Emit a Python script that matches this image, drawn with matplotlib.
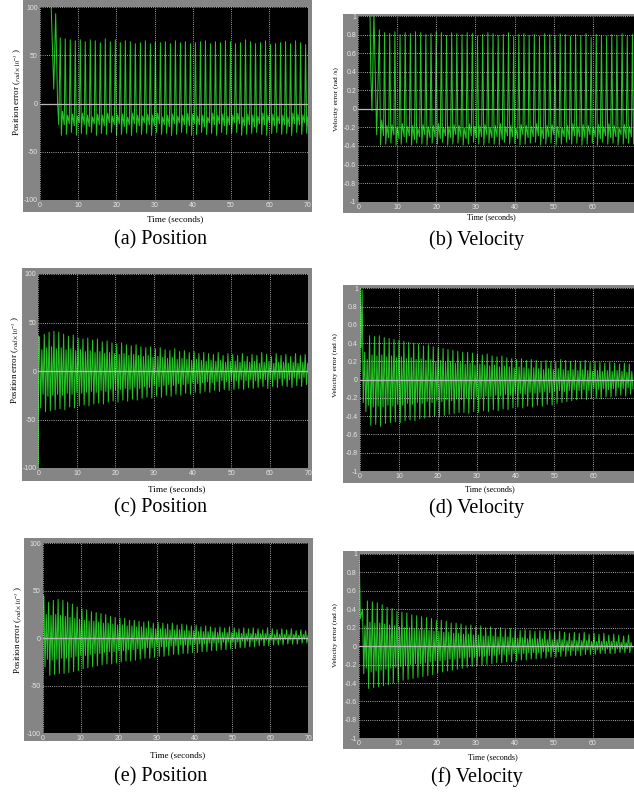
"""Six scope-style error traces (position / velocity) in a 3x2 grid."""
import numpy as np
import matplotlib
matplotlib.use("Agg")
import matplotlib.pyplot as plt
from matplotlib.patches import Rectangle

W, H = 634, 796

# ---------------- data ----------------
# every cycle is traced as: peak -> trough -> inner peak -> inner trough

# (a) position
a_lead_t = [2.9, 3.6, 4.1, 4.6, 4.9]
a_lead_v = [104, 15, 93, 0, -22]
a_span = (5.3, 69.5)
a_hi = [68, 67, 66, 65, 66, 64, 66, 65, 63, 67,
        64, 66, 63, 65, 64, 62, 63, 65, 62, 64,
        63, 64, 62, 65, 63, 64, 62, 63, 64, 65,
        62, 64, 63, 65, 64, 62, 63, 66, 64, 62,
        63, 65, 61, 62, 63, 64, 62, 65, 63, 61]
a_lo = [-33, -32, -30, -33, -31, -32, -30, -33, -31, -32,
        -30, -33, -32, -31, -33, -30, -32, -31, -33, -30,
        -32, -31, -33, -32, -30, -31, -33, -32, -30, -32,
        -31, -33, -30, -32, -31, -30, -33, -32, -31, -30,
        -32, -33, -31, -30, -32, -31, -33, -30, -32, -31]
a_in_hi = [-8, -12, -11, -13, -10, -12, -14, -11, -12, -10,
           -13, -12, -11, -14, -10, -12, -13, -11, -12, -10,
           -14, -12, -11, -13, -12, -10, -11, -13, -12, -14,
           -10, -12, -11, -13, -12, -10, -14, -11, -12, -13,
           -10, -12, -11, -13, -12, -14, -10, -11, -12, -13]
a_in_lo = [-22, -21, -23, -20, -22, -24, -21, -22, -23, -20,
           -22, -21, -24, -22, -21, -23, -20, -22, -23, -21,
           -22, -24, -21, -20, -22, -23, -21, -22, -24, -20,
           -22, -21, -23, -22, -20, -21, -23, -22, -24, -21,
           -22, -20, -23, -21, -22, -24, -21, -22, -20, -23]

# (b) velocity
b_lead_t = [3.0, 3.2, 3.5, 4.0, 4.7]
b_lead_v = [1.02, 0.38, -0.02, 1.02, -0.28]
b_span = (5.4, 70.2)
b_hi = [0.85, 0.82, 0.81, 0.83, 0.80, 0.82, 0.81, 0.83, 0.82, 0.80,
        0.81, 0.83, 0.82, 0.79, 0.82, 0.81, 0.80, 0.82, 0.81, 0.78,
        0.80, 0.82, 0.81, 0.79, 0.80, 0.82, 0.78, 0.80, 0.81, 0.79,
        0.80, 0.78, 0.81, 0.80, 0.79, 0.81, 0.80, 0.78, 0.80, 0.79,
        0.81, 0.77, 0.80, 0.79, 0.78, 0.80, 0.79, 0.81, 0.78, 0.80]
b_lo = [-0.39, -0.38, -0.37, -0.39, -0.38, -0.36, -0.39, -0.37, -0.38, -0.39,
        -0.37, -0.38, -0.36, -0.39, -0.38, -0.37, -0.39, -0.38, -0.36, -0.38,
        -0.39, -0.37, -0.38, -0.39, -0.36, -0.38, -0.37, -0.39, -0.38, -0.37,
        -0.36, -0.39, -0.38, -0.37, -0.39, -0.38, -0.36, -0.38, -0.37, -0.39,
        -0.38, -0.37, -0.39, -0.36, -0.38, -0.37, -0.39, -0.38, -0.37, -0.38]
b_in_hi = [-0.12, -0.18, -0.17, -0.20, -0.16, -0.19, -0.18, -0.21, -0.17, -0.19,
           -0.18, -0.16, -0.20, -0.19, -0.17, -0.18, -0.21, -0.16, -0.19, -0.18,
           -0.17, -0.20, -0.18, -0.16, -0.19, -0.18, -0.21, -0.17, -0.18, -0.19,
           -0.16, -0.20, -0.18, -0.17, -0.19, -0.21, -0.18, -0.16, -0.19, -0.17,
           -0.18, -0.20, -0.17, -0.19, -0.16, -0.18, -0.21, -0.17, -0.19, -0.18]
b_in_lo = [-0.29, -0.31, -0.28, -0.32, -0.30, -0.29, -0.33, -0.30, -0.28, -0.31,
           -0.30, -0.32, -0.29, -0.31, -0.28, -0.30, -0.32, -0.29, -0.31, -0.30,
           -0.28, -0.31, -0.30, -0.33, -0.29, -0.30, -0.32, -0.28, -0.31, -0.30,
           -0.29, -0.32, -0.30, -0.28, -0.31, -0.30, -0.33, -0.29, -0.30, -0.31,
           -0.28, -0.30, -0.32, -0.29, -0.31, -0.30, -0.28, -0.32, -0.30, -0.29]

# (c) position
c_lead_t = [0.0, 0.1]
c_lead_v = [-105, 36]
c_span = (0.3, 69.2)
c_hi = [34, 38, 40, 41, 40, 38, 36, 37, 34, 33,
        34, 32, 33, 30, 31, 29, 28, 29, 27, 26,
        27, 25, 24, 25, 23, 24, 22, 21, 23, 20,
        21, 19, 20, 18, 19, 18, 17, 19, 16, 18,
        17, 16, 18, 15, 17, 16, 19, 17, 15, 18,
        16, 17, 15, 18, 16, 17]
c_lo = [-38, -42, -41, -40, -39, -40, -37, -38, -36, -35,
        -36, -34, -33, -34, -32, -31, -32, -30, -31, -29,
        -30, -28, -27, -28, -26, -27, -25, -26, -24, -25,
        -23, -24, -22, -23, -21, -22, -20, -21, -19, -20,
        -19, -18, -19, -17, -18, -17, -16, -18, -16, -17,
        -15, -16, -17, -15, -16, -14]
c_in_hi = [22, 24, 25, 23, 24, 22, 23, 21, 22, 20,
           21, 19, 20, 18, 19, 18, 17, 18, 16, 17,
           16, 15, 16, 14, 15, 14, 13, 14, 12, 13,
           12, 11, 12, 11, 10, 11, 10, 11, 9, 10,
           10, 9, 10, 9, 10, 8, 9, 10, 8, 9,
           9, 8, 9, 8, 9, 8]
c_in_lo = [-24, -26, -25, -24, -25, -23, -24, -22, -23, -22,
           -21, -22, -20, -21, -19, -20, -19, -18, -19, -17,
           -18, -16, -17, -15, -16, -15, -14, -15, -13, -14,
           -13, -12, -13, -12, -11, -12, -11, -10, -11, -10,
           -10, -9, -10, -9, -10, -8, -9, -8, -9, -8,
           -8, -9, -7, -8, -7, -8]

# (d) velocity
d_lead_t = [0.0, 0.05, 0.3, 0.55, 0.85]
d_lead_v = [0.1, 1.02, 0.35, 0.98, -0.25]
d_span = (1.2, 69.3)
d_hi = [0.30, 0.48, 0.47, 0.48, 0.46, 0.45, 0.44, 0.43, 0.42, 0.41,
        0.40, 0.39, 0.37, 0.38, 0.36, 0.35, 0.34, 0.33, 0.32, 0.31,
        0.30, 0.30, 0.29, 0.28, 0.27, 0.28, 0.26, 0.25, 0.26, 0.24,
        0.23, 0.22, 0.23, 0.21, 0.22, 0.21, 0.20, 0.21, 0.20, 0.19,
        0.22, 0.21, 0.20, 0.21, 0.20, 0.21, 0.19, 0.20, 0.19, 0.18,
        0.19, 0.18, 0.17, 0.18, 0.17]
d_lo = [-0.35, -0.50, -0.49, -0.51, -0.48, -0.47, -0.46, -0.47, -0.45, -0.44,
        -0.45, -0.43, -0.42, -0.41, -0.40, -0.41, -0.39, -0.38, -0.37, -0.36,
        -0.36, -0.37, -0.35, -0.36, -0.34, -0.35, -0.33, -0.34, -0.32, -0.33,
        -0.31, -0.30, -0.31, -0.29, -0.30, -0.28, -0.29, -0.27, -0.28, -0.26,
        -0.25, -0.24, -0.23, -0.22, -0.21, -0.22, -0.21, -0.20, -0.21, -0.19,
        -0.19, -0.18, -0.17, -0.18, -0.16]
d_in_hi = [0.22, 0.27, 0.26, 0.27, 0.25, 0.26, 0.24, 0.25, 0.23, 0.24,
           0.22, 0.23, 0.21, 0.22, 0.20, 0.21, 0.19, 0.20, 0.18, 0.19,
           0.17, 0.18, 0.16, 0.17, 0.16, 0.15, 0.16, 0.14, 0.15, 0.14,
           0.13, 0.14, 0.13, 0.12, 0.13, 0.12, 0.11, 0.12, 0.11, 0.12,
           0.11, 0.10, 0.11, 0.10, 0.11, 0.10, 0.09, 0.10, 0.09, 0.10,
           0.09, 0.10, 0.09, 0.08, 0.09]
d_in_lo = [-0.28, -0.30, -0.29, -0.30, -0.28, -0.29, -0.27, -0.28, -0.26, -0.27,
           -0.25, -0.26, -0.24, -0.25, -0.23, -0.24, -0.22, -0.23, -0.21, -0.22,
           -0.20, -0.21, -0.19, -0.20, -0.18, -0.19, -0.17, -0.18, -0.16, -0.17,
           -0.16, -0.15, -0.16, -0.14, -0.15, -0.14, -0.13, -0.14, -0.13, -0.12,
           -0.13, -0.12, -0.11, -0.12, -0.11, -0.12, -0.10, -0.11, -0.10, -0.11,
           -0.10, -0.09, -0.10, -0.09, -0.10]

# (e) position
e_lead_t = [0.0, 0.08]
e_lead_v = [-105, 45]
e_span = (0.3, 69.3)
e_hi = [44, 38, 40, 41, 40, 38, 36, 33, 31, 30,
        28, 27, 26, 25, 23, 22, 21, 21, 19, 19,
        18, 17, 18, 16, 17, 16, 15, 16, 14, 15,
        14, 13, 14, 12, 13, 12, 11, 12, 11, 12,
        11, 10, 11, 10, 11, 10, 9, 11, 10, 9,
        10, 9, 10, 8, 9, 8]
e_lo = [-30, -39, -38, -37, -37, -36, -35, -34, -32, -31,
        -30, -29, -28, -27, -27, -26, -25, -24, -24, -23,
        -22, -21, -21, -20, -19, -19, -18, -17, -17, -16,
        -16, -15, -15, -14, -14, -13, -13, -12, -12, -11,
        -11, -10, -10, -9, -9, -8, -8, -8, -7, -7,
        -7, -6, -6, -6, -5, -5]
e_in_hi = [25, 24, 25, 24, 23, 22, 21, 20, 19, 18,
           18, 17, 16, 16, 15, 14, 14, 13, 13, 12,
           12, 11, 11, 10, 10, 10, 9, 9, 9, 8,
           8, 8, 7, 7, 7, 7, 6, 6, 6, 6,
           6, 5, 5, 5, 5, 5, 5, 4, 4, 4,
           4, 4, 4, 3, 4, 3]
e_in_lo = [-22, -23, -22, -21, -21, -20, -19, -18, -18, -17,
           -16, -16, -15, -14, -14, -13, -13, -12, -12, -11,
           -11, -10, -10, -9, -9, -9, -8, -8, -7, -7,
           -7, -6, -6, -6, -5, -5, -5, -4, -4, -4,
           -4, -3, -3, -3, -3, -2, -2, -2, -2, -2,
           -1, -2, -1, -1, -1, -1]

# (f) velocity
f_lead_t = [0.0, 0.05, 0.35]
f_lead_v = [0.05, 1.02, 0.3]
f_span = (0.9, 69.2)
f_hi = [0.40, 0.49, 0.48, 0.47, 0.45, 0.42, 0.41, 0.38, 0.37, 0.36,
        0.34, 0.33, 0.32, 0.31, 0.30, 0.28, 0.28, 0.27, 0.25, 0.25,
        0.24, 0.22, 0.23, 0.21, 0.22, 0.20, 0.21, 0.19, 0.20, 0.18,
        0.19, 0.18, 0.17, 0.18, 0.17, 0.16, 0.17, 0.16, 0.17, 0.15,
        0.16, 0.15, 0.14, 0.15, 0.14, 0.15, 0.13, 0.14, 0.13, 0.14,
        0.12, 0.13, 0.12, 0.11, 0.12]
f_lo = [-0.30, -0.46, -0.45, -0.44, -0.43, -0.42, -0.40, -0.39, -0.37, -0.36,
        -0.35, -0.34, -0.33, -0.32, -0.31, -0.29, -0.28, -0.27, -0.26, -0.25,
        -0.24, -0.23, -0.22, -0.21, -0.21, -0.20, -0.19, -0.18, -0.18, -0.17,
        -0.17, -0.16, -0.15, -0.15, -0.14, -0.14, -0.13, -0.13, -0.12, -0.12,
        -0.11, -0.11, -0.10, -0.10, -0.10, -0.09, -0.09, -0.09, -0.08, -0.08,
        -0.08, -0.08, -0.07, -0.07, -0.07]
f_in_hi = [0.22, 0.26, 0.25, 0.25, 0.24, 0.23, 0.22, 0.21, 0.20, 0.20,
           0.19, 0.18, 0.18, 0.17, 0.16, 0.16, 0.15, 0.15, 0.14, 0.14,
           0.13, 0.13, 0.12, 0.12, 0.11, 0.11, 0.11, 0.10, 0.10, 0.10,
           0.09, 0.09, 0.09, 0.08, 0.08, 0.08, 0.08, 0.07, 0.07, 0.07,
           0.07, 0.06, 0.06, 0.06, 0.06, 0.06, 0.05, 0.05, 0.05, 0.05,
           0.05, 0.05, 0.04, 0.04, 0.04]
f_in_lo = [-0.24, -0.28, -0.27, -0.26, -0.25, -0.24, -0.23, -0.22, -0.21, -0.20,
           -0.19, -0.19, -0.18, -0.17, -0.16, -0.16, -0.15, -0.14, -0.14, -0.13,
           -0.13, -0.12, -0.12, -0.11, -0.11, -0.10, -0.10, -0.09, -0.09, -0.09,
           -0.08, -0.08, -0.08, -0.07, -0.07, -0.07, -0.06, -0.06, -0.06, -0.06,
           -0.05, -0.05, -0.05, -0.05, -0.04, -0.04, -0.04, -0.04, -0.04, -0.03,
           -0.03, -0.03, -0.03, -0.03, -0.02]

pos_ticks = [-100, -50, 0, 50, 100]
pos_tick_labels = ["-100", "-50", "0", "50", "100"]
vel_ticks = [-1, -0.8, -0.6, -0.4, -0.2, 0, 0.2, 0.4, 0.6, 0.8, 1]
vel_tick_labels = ["-1", "-0.8", "-0.6", "-0.4", "-0.2", "0",
                   "0.2", "0.4", "0.6", "0.8", "1"]
time_ticks_left = [0, 10, 20, 30, 40, 50, 60, 70]
time_ticks_right = [0, 10, 20, 30, 40, 50, 60]

captions = ["(a) Position", "(b) Velocity", "(c) Position",
            "(d) Velocity", "(e) Position", "(f) Velocity"]
pos_label = r"Position error ($_{rad\times10^{-3}}$ )"
vel_label = "Velocity error (rad /s)"

# ---------------- layout (pixel boxes in the 634x796 image) ----------------
SHARP = (0.0, 0.22, 0.45, 0.8)   # steep rise/fall, then a flat cluster
EVEN = (0.0, 0.25, 0.5, 0.75)

panels = [
    dict(lead=(a_lead_t, a_lead_v), span=a_span, vals=(a_hi, a_lo, a_in_hi, a_in_lo),
         shape=SHARP, kind="pos", ax=(40, 7, 307.5, 200), frame=(23, 0, 312, 212),
         xmax=70, ylab=(16.7, 92, 6.5), tlab=(175, 219, 6.6), cap=(161, 240)),
    dict(lead=(b_lead_t, b_lead_v), span=b_span, vals=(b_hi, b_lo, b_in_hi, b_in_lo),
         shape=SHARP, kind="vel", ax=(358.3, 16, 634, 201.7), frame=(343, 14, 634, 213),
         xmax=70.6, ylab=(335.7, 99, 5.3), tlab=(491, 217, 5.8), cap=(477, 240)),
    dict(lead=(c_lead_t, c_lead_v), span=c_span, vals=(c_hi, c_lo, c_in_hi, c_in_lo),
         shape=EVEN, kind="pos", ax=(38.3, 274, 308.3, 468), frame=(22, 268, 312, 481),
         xmax=70, ylab=(15, 360, 6.5), tlab=(177, 489, 6.7), cap=(161, 508)),
    dict(lead=(d_lead_t, d_lead_v), span=d_span, vals=(d_hi, d_lo, d_in_hi, d_in_lo),
         shape=EVEN, kind="vel", ax=(360, 288.3, 634, 471), frame=(343, 285, 634, 483),
         xmax=70.5, ylab=(335, 365, 5.3), tlab=(490, 489, 5.9), cap=(477, 508)),
    dict(lead=(e_lead_t, e_lead_v), span=e_span, vals=(e_hi, e_lo, e_in_hi, e_in_lo),
         shape=EVEN, kind="pos", ax=(42.7, 543.3, 308.3, 733.3), frame=(24, 538, 313, 741),
         xmax=70, ylab=(18, 630, 6.5), tlab=(178, 755, 6.5), cap=(161, 777)),
    dict(lead=(f_lead_t, f_lead_v), span=f_span, vals=(f_hi, f_lo, f_in_hi, f_in_lo),
         shape=EVEN, kind="vel", ax=(359, 554, 634, 738.3), frame=(343, 551, 634, 749),
         xmax=70.6, ylab=(335, 635, 5.3), tlab=(493, 757, 5.9), cap=(477, 777)),
]

GREEN = "#27c227"
FRAME = "#858585"
TICK_TXT = "#e6e6e6"

plt.rcParams["mathtext.fontset"] = "stix"


def fx(x):
    return x / W


def fy(y):
    return 1 - y / H


def build_trace(lead, span, vals, shape):
    """Join the lead-in samples with the per-cycle turning points."""
    t = list(lead[0])
    v = list(lead[1])
    starts = np.linspace(span[0], span[1], len(vals[0]))
    period = starts[1] - starts[0]
    for k, t0 in enumerate(starts):
        for frac, series in zip(shape, vals):
            t.append(t0 + frac * period)
            v.append(series[k])
    return np.array(t), np.array(v)


fig = plt.figure(figsize=(W / 100, H / 100), dpi=100)
fig.patch.set_facecolor("white")

for p, cap in zip(panels, captions):
    l, t, r, b = p["frame"]
    fig.add_artist(Rectangle((fx(l), fy(b)), fx(r - l), (b - t) / H,
                             transform=fig.transFigure, facecolor=FRAME,
                             edgecolor="none", zorder=-1))

    l, t, r, b = p["ax"]
    ax = fig.add_axes([fx(l), fy(b), fx(r - l), (b - t) / H])
    ax.set_facecolor("black")
    for s in ax.spines.values():
        s.set_visible(False)

    tt, vv = build_trace(p["lead"], p["span"], p["vals"], p["shape"])
    ax.plot(tt, vv, color=GREEN, lw=0.75, zorder=2)
    ax.axhline(0, color="#b8b8b8", lw=0.9, zorder=3)

    if p["kind"] == "pos":
        ax.set_ylim(-100, 100)
        ax.set_yticks(pos_ticks)
        ax.set_yticklabels(pos_tick_labels)
        ax.set_xticks(time_ticks_left)
        ylabel = pos_label
    else:
        ax.set_ylim(-1, 1)
        ax.set_yticks(vel_ticks)
        ax.set_yticklabels(vel_tick_labels)
        ax.set_xticks(time_ticks_right)
        ylabel = vel_label
    ax.set_xlim(0, p["xmax"])

    ax.grid(True, color="#d9d9d9", linestyle=(0, (1, 1.6)), linewidth=0.6)
    ax.set_axisbelow(False)
    ax.tick_params(length=0, labelsize=5, labelcolor=TICK_TXT, pad=1.5)
    for lab in ax.get_xticklabels() + ax.get_yticklabels():
        lab.set_fontfamily("Liberation Sans")

    x, y, fs = p["ylab"]
    fig.text(fx(x), fy(y), ylabel, rotation=90, ha="center", va="center",
             fontsize=fs, family="Liberation Serif")
    x, y, fs = p["tlab"]
    fig.text(fx(x), fy(y), "Time (seconds)", ha="center", va="center",
             fontsize=fs, family="Liberation Serif")
    x, y = p["cap"]
    fig.text(fx(x), fy(y), cap, ha="center", va="center",
             fontsize=14.5, family="Liberation Serif")

fig.savefig("out.png", dpi=100)
